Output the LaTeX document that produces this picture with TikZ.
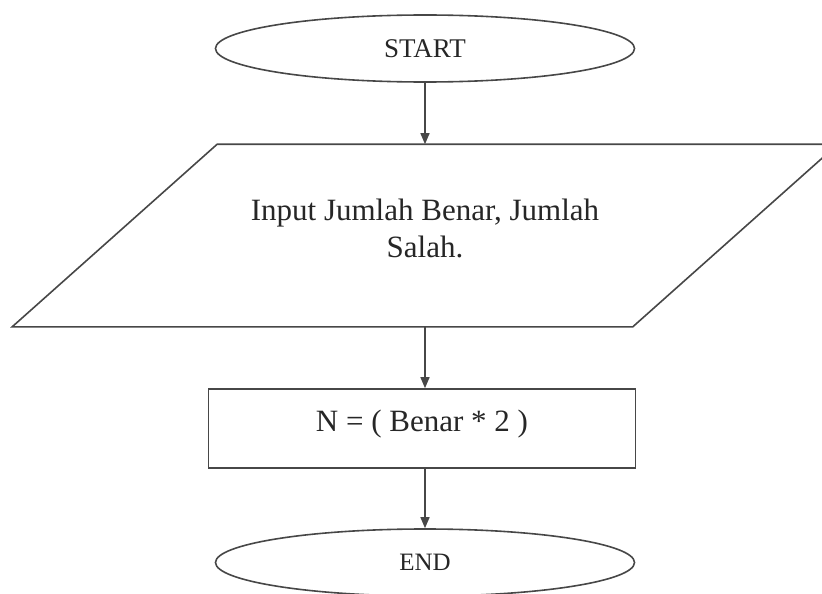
\documentclass[tikz,border=0pt]{standalone}
\usepackage{fontspec}
\setmainfont{Liberation Serif}
\usepackage{tikz}
\usetikzlibrary{shapes}
\usetikzlibrary{arrows.meta}
\colorlet{lineGray}{black!72}
\tikzset{%
  >={Triangle[width=9pt,length=11pt]},
  % Specifications for style of nodes:
        base/.style = {draw=lineGray, line width=1.6pt, inner sep=0pt,
                       text centered, text=black!85},
   startstop/.style = {base, ellipse, minimum width=419pt, minimum height=67pt},
          io/.style = {base, draw=none, rectangle, minimum width=619pt,
                       minimum height=181pt, align=center,
                       text height=54pt, text depth=10pt,
                       font=\fontsize{31}{37}\selectfont},
     process/.style = {base, rectangle, minimum width=427pt, minimum height=79pt,
                       text height=22pt, text depth=16pt,
                       font=\fontsize{31}{36}\selectfont},
}

\begin{document}
\begin{tikzpicture}[x=1pt, y=1pt, node distance=187pt]
  \useasboundingbox (0,0) rectangle (822,-594);
  % Specification of nodes (position, etc.)
  \node (start)   [startstop, font=\fontsize{27}{30}\selectfont]
                                      at (425,-48.5)         {START};
  \node (inputBlock)   [io, below of=start]
                           {Input Jumlah Benar, Jumlah\\Salah.};
  \node (nBlock)  [process, below of=inputBlock, yshift=-6pt, xshift=-3pt]
                                              {N = ( Benar * 2 )};
  \node (end)     [startstop, below of=nBlock, yshift=53pt, xshift=3pt,
                   font=\fontsize{25}{28}\selectfont]         {END};
  % slanted input box around the text node
  \draw[draw=lineGray, line width=1.6pt]
      ([xshift=-102.5pt]inputBlock.south west) --
      ([xshift=-102.5pt]inputBlock.south east) --
      ([xshift=102.5pt]inputBlock.north east) --
      ([xshift=102.5pt]inputBlock.north west) -- cycle;
  % Specification of lines between nodes specified above
  \draw[->, draw=lineGray, line width=1.4pt]      (start) -- (inputBlock);
  \draw[->, draw=lineGray, line width=1.4pt] (inputBlock) -- (inputBlock |- nBlock.north);
  \draw[->, draw=lineGray, line width=1.4pt]
                          (inputBlock |- nBlock.south) -- (inputBlock |- end.north);
\end{tikzpicture}
\end{document}
